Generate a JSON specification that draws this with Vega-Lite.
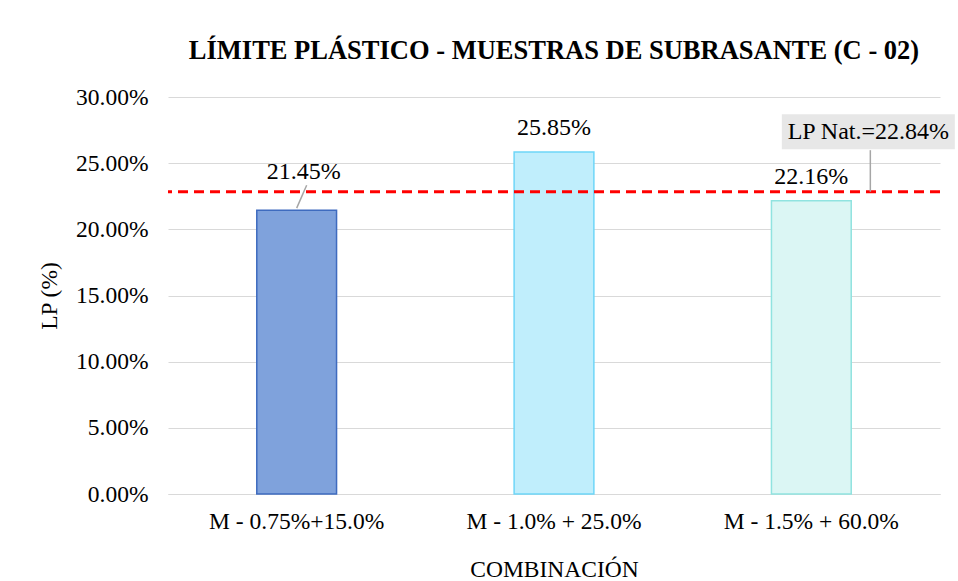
{
  "$schema": "https://vega.github.io/schema/vega-lite/v6.json",
  "autosize": {"type": "none"},
  "width": 772,
  "height": 397,
  "padding": {"left": 168, "top": 97, "right": 18, "bottom": 90},
  "background": "white",
  "config": {
    "font": "Liberation Serif",
    "view": {"stroke": null},
    "text": {"font": "Liberation Serif"},
    "axis": {"labelFont": "Liberation Serif", "titleFont": "Liberation Serif", "labelColor": "#000000", "titleColor": "#000000"}
  },
  "title": {
    "text": "LÍMITE PLÁSTICO - MUESTRAS DE SUBRASANTE (C - 02)",
    "font": "Liberation Serif",
    "fontSize": 26.5,
    "fontWeight": "bold",
    "color": "#000000",
    "anchor": "middle",
    "offset": 21
  },
  "datasets": {
    "bars": [
      {"combinacion": "M - 0.75%+15.0%", "lp": 0.2145},
      {"combinacion": "M - 1.0% + 25.0%", "lp": 0.2585},
      {"combinacion": "M - 1.5% + 60.0%", "lp": 0.2216}
    ],
    "nat": [
      {"combinacion": "M - 1.5% + 60.0%", "lp_nat": 0.2284, "label": "LP Nat.=22.84%"}
    ]
  },
  "encoding": {
    "x": {
      "field": "combinacion",
      "type": "nominal",
      "sort": null,
      "scale": {"paddingInner": 0.69, "paddingOuter": 0.345},
      "axis": {
        "title": "COMBINACIÓN",
        "labelAngle": 0,
        "labelFontSize": 23.5,
        "titleFontSize": 23.5,
        "titleFontWeight": "normal",
        "labelPadding": 15,
        "titlePadding": 25,
        "ticks": false,
        "domainColor": "#D9D9D9",
        "domainWidth": 1
      }
    }
  },
  "layer": [
    {
      "data": {"name": "bars"},
      "mark": {"type": "bar", "strokeWidth": 1.5},
      "encoding": {
        "y": {
          "field": "lp",
          "type": "quantitative",
          "scale": {"domain": [0, 0.3], "nice": false},
          "axis": {
            "title": "LP (%)",
            "format": ".2%",
            "values": [0, 0.05, 0.1, 0.15, 0.2, 0.25, 0.3],
            "labelFontSize": 23.5,
            "titleFontSize": 23.5,
            "titleFontWeight": "normal",
            "labelPadding": 20,
            "titlePadding": 14,
            "ticks": false,
            "domain": false,
            "gridColor": "#D9D9D9",
            "gridWidth": 1
          }
        },
        "color": {
          "field": "combinacion",
          "type": "nominal",
          "sort": null,
          "scale": {"range": ["#7FA2DC", "#C0EEFC", "#DBF6F4"]},
          "legend": null
        },
        "stroke": {
          "field": "combinacion",
          "type": "nominal",
          "sort": null,
          "scale": {"range": ["#3E6BBF", "#6ED6F8", "#90E3E0"]},
          "legend": null
        }
      }
    },
    {
      "data": {"name": "bars"},
      "transform": [{"filter": "datum.combinacion != 'M - 0.75%+15.0%'"}],
      "mark": {"type": "text", "font": "Liberation Serif", "fontSize": 24, "dy": -24, "baseline": "middle", "color": "#000000"},
      "encoding": {
        "y": {"field": "lp", "type": "quantitative"},
        "text": {"field": "lp", "type": "quantitative", "format": ".2%"}
      }
    },
    {
      "data": {"name": "bars"},
      "transform": [{"filter": "datum.combinacion == 'M - 0.75%+15.0%'"}],
      "mark": {"type": "text", "font": "Liberation Serif", "fontSize": 24, "dy": -38, "dx": 7, "baseline": "middle", "color": "#000000"},
      "encoding": {
        "y": {"field": "lp", "type": "quantitative"},
        "text": {"field": "lp", "type": "quantitative", "format": ".2%"}
      }
    },
    {
      "data": {"name": "bars"},
      "transform": [{"filter": "datum.combinacion == 'M - 0.75%+15.0%'"}],
      "mark": {"type": "rule", "color": "#A6A6A6", "strokeWidth": 1.5, "x2Offset": 10, "yOffset": -2},
      "encoding": {
        "y": {"field": "lp", "type": "quantitative"},
        "y2": {"datum": 0.2333},
        "x2": {"field": "combinacion"}
      }
    },
    {
      "data": {"name": "nat"},
      "mark": {"type": "rule", "color": "#FF0000", "strokeWidth": 3, "strokeDash": [10, 6]},
      "encoding": {
        "x": null,
        "y": {"field": "lp_nat", "type": "quantitative"}
      }
    },
    {
      "data": {"name": "nat"},
      "mark": {"type": "rule", "color": "#A6A6A6", "strokeWidth": 1.5, "xOffset": 59},
      "encoding": {
        "y": {"field": "lp_nat", "type": "quantitative"},
        "y2": {"datum": 0.2598}
      }
    },
    {
      "data": {"name": "nat"},
      "mark": {
        "type": "point",
        "filled": true,
        "opacity": 1,
        "color": "#E7E7E7",
        "shape": "M-1,-0.2023L1,-0.2023L1,0.2023L-1,0.2023Z",
        "size": 29929,
        "xOffset": 57,
        "yOffset": -60
      },
      "encoding": {
        "y": {"field": "lp_nat", "type": "quantitative"}
      }
    },
    {
      "data": {"name": "nat"},
      "mark": {"type": "text", "font": "Liberation Serif", "fontSize": 24, "dx": 57, "dy": -60, "baseline": "middle", "color": "#000000"},
      "encoding": {
        "y": {"field": "lp_nat", "type": "quantitative"},
        "text": {"field": "label"}
      }
    }
  ]
}
